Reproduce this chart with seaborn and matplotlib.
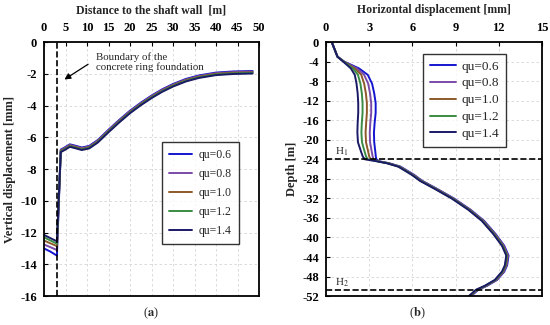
import numpy as np
import pandas as pd
import seaborn as sns
import matplotlib
matplotlib.use('Agg')
import matplotlib.pyplot as plt

# data (a) vertical displacement vs distance to shaft wall
dist = [0, 1.5, 3.0, 3.9, 4.8, 6.0, 7.2, 8.8, 10.5, 12.5, 15, 17.5, 20, 22.5,
        25, 27.5, 30, 33, 36, 40, 44, 48.5]
vd_06 = [-13.0, -13.2, -13.45, -6.77, -6.64, -6.44, -6.52, -6.64, -6.54, -6.17, -5.52,
         -4.90, -4.32, -3.82, -3.37, -2.97, -2.64, -2.32, -2.10, -1.92, -1.85, -1.82]
vd_08 = [-12.75, -12.92, -13.1, -6.81, -6.68, -6.48, -6.56, -6.68, -6.58, -6.21, -5.56,
         -4.94, -4.36, -3.86, -3.41, -3.01, -2.68, -2.36, -2.14, -1.96, -1.89, -1.86]
vd_10 = [-12.5, -12.68, -12.85, -6.85, -6.72, -6.52, -6.60, -6.72, -6.62, -6.25, -5.60,
         -4.98, -4.40, -3.90, -3.45, -3.05, -2.72, -2.40, -2.18, -2.00, -1.93, -1.90]
vd_12 = [-12.3, -12.5, -12.7, -6.89, -6.76, -6.56, -6.64, -6.76, -6.66, -6.29, -5.64,
         -5.02, -4.44, -3.94, -3.49, -3.09, -2.76, -2.44, -2.22, -2.04, -1.97, -1.94]
vd_14 = [-12.15, -12.35, -12.55, -6.93, -6.80, -6.60, -6.68, -6.80, -6.70, -6.33, -5.68,
         -5.06, -4.48, -3.98, -3.53, -3.13, -2.80, -2.48, -2.26, -2.08, -2.01, -1.98]

# data (b) horizontal displacement vs depth
depth = [0, -1.5, -3.0, -4.0, -5.4, -6.7, -8.5, -10.5, -12.5, -14.5, -16.5, -18.5,
         -20.5, -22.3, -23.4, -24.0,
         -24.4, -24.8, -25.5, -27.2, -28.4, -30, -32, -34.3, -36.6, -39.3, -41.7,
         -43.7, -45.7, -47.0, -48.7, -49.9, -50.7, -52]
hd_06 = [0.4, 0.6, 0.8, 1.27, 2.3, 2.9, 3.2, 3.35, 3.45, 3.45, 3.38, 3.33, 3.35, 3.42, 3.46, 3.5,
         3.68, 4.38, 5.18, 6.13, 6.68, 7.68, 8.88, 10.03, 10.98, 11.78, 12.38, 12.68, 12.58,
         12.38, 11.88, 11.18, 10.58, 10.08]
hd_08 = [0.4, 0.6, 0.8, 1.25, 2.15, 2.65, 2.93, 3.06, 3.14, 3.14, 3.08, 3.04, 3.06, 3.17, 3.24, 3.3,
         3.64, 4.34, 5.14, 6.09, 6.64, 7.64, 8.84, 9.99, 10.94, 11.74, 12.34, 12.64, 12.54,
         12.34, 11.84, 11.14, 10.54, 10.04]
hd_10 = [0.4, 0.6, 0.8, 1.24, 2.0, 2.45, 2.65, 2.77, 2.84, 2.84, 2.79, 2.75, 2.78, 2.92, 3.0, 3.1,
         3.6, 4.3, 5.1, 6.05, 6.6, 7.6, 8.8, 9.95, 10.9, 11.7, 12.3, 12.6, 12.5,
         12.3, 11.8, 11.1, 10.5, 10.0]
hd_12 = [0.4, 0.6, 0.8, 1.22, 1.87, 2.22, 2.39, 2.49, 2.54, 2.54, 2.49, 2.46, 2.5, 2.67, 2.78, 2.9,
         3.56, 4.26, 5.06, 6.01, 6.56, 7.56, 8.76, 9.91, 10.86, 11.66, 12.26, 12.56, 12.46,
         12.26, 11.76, 11.06, 10.46, 9.96]
hd_14 = [0.4, 0.6, 0.8, 1.2, 1.73, 2.0, 2.12, 2.2, 2.24, 2.24, 2.2, 2.18, 2.22, 2.42, 2.55, 2.7,
         3.52, 4.22, 5.02, 5.97, 6.52, 7.52, 8.72, 9.87, 10.82, 11.62, 12.22, 12.52, 12.42,
         12.22, 11.72, 11.02, 10.42, 9.92]

labels = ['qu=0.6', 'qu=0.8', 'qu=1.0', 'qu=1.2', 'qu=1.4']
colors = ['#1515d0', '#7a4aa8', '#8c5a2a', '#3a8c44', '#1a1a66']

# long tables for seaborn
df_a = pd.concat([pd.DataFrame({'x': dist, 'y': v, 'case': lab})
                  for v, lab in zip([vd_06, vd_08, vd_10, vd_12, vd_14], labels)])
df_b = pd.concat([pd.DataFrame({'x': v, 'y': depth, 'case': lab})
                  for v, lab in zip([hd_06, hd_08, hd_10, hd_12, hd_14], labels)])

sns.set_style('whitegrid')
plt.rcParams['font.family'] = ['Liberation Serif', 'DejaVu Serif']
plt.rcParams['mathtext.fontset'] = 'stix'
plt.rcParams['axes.unicode_minus'] = False

fig = plt.figure(figsize=(5.5, 3.25), dpi=100)
ax1 = fig.add_axes([0.08, 0.089, 0.391, 0.7815])
ax2 = fig.add_axes([0.5927, 0.089, 0.3927, 0.7815])

pal = dict(zip(labels, colors))
sns.lineplot(data=df_a, x='x', y='y', hue='case', palette=pal, estimator=None,
             sort=False, lw=1.4, ax=ax1)
sns.lineplot(data=df_b, x='x', y='y', hue='case', palette=pal, estimator=None,
             sort=False, lw=1.4, ax=ax2)

def style_ax(ax, xticks, yticks, xlab, ylab):
    ax.set_xticks(xticks)
    ax.set_yticks(yticks)
    ax.set_xlim(xticks[0], xticks[-1])
    ax.set_ylim(yticks[-1], yticks[0])
    ax.xaxis.tick_top()
    ax.xaxis.set_label_position('top')
    ax.tick_params(direction='in', length=3, width=0.8, top=True, left=True,
                   bottom=False, right=False, labelsize=9, pad=6, colors='black')
    ax.tick_params(axis='y', pad=5)
    for t in ax.get_xticklabels() + ax.get_yticklabels():
        t.set_fontweight('bold')
    ax.set_xlabel(xlab, fontsize=8.5, fontweight='bold', labelpad=6)
    ax.set_ylabel(ylab, fontsize=9, fontweight='bold', labelpad=3)
    ax.grid(True, ls=(0, (3, 3)), color='#d5d5d5', lw=0.6)
    for s in ax.spines.values():
        s.set_color('black')
        s.set_linewidth(1.3)

style_ax(ax1, list(range(0, 51, 5)), list(range(0, -17, -2)),
         'Distance to the shaft wall  [m]', 'Vertical displacement [mm]')
style_ax(ax2, list(range(0, 16, 3)), list(range(0, -53, -4)),
         'Horizontal displacement [mm]', 'Depth [m]')

ax1.axvline(3, color='black', ls='--', lw=1.2, zorder=5)
ax1.annotate('', xy=(4.2, -2.45), xytext=(10.8, -1.3),
             arrowprops=dict(arrowstyle='-|>', color='black', lw=0.9, mutation_scale=9))
ax1.text(12.2, -1.25, 'Boundary of the\nconcrete ring foundation', fontsize=7.8,
         ha='left', va='center', linespacing=1.1)

ax2.axhline(-24, color='black', ls='--', lw=1.2, zorder=5)
ax2.axhline(-50.8, color='black', ls='--', lw=1.2, zorder=5)
ax2.text(0.6, -23.7, 'H$_1$', fontsize=8, va='bottom')
ax2.text(0.6, -50.5, 'H$_2$', fontsize=8, va='bottom')

h, l = ax1.get_legend_handles_labels()
leg = ax1.legend(h, l, loc='upper left', bbox_to_anchor=(0.52, 0.63), fontsize=8.5,
                 frameon=True, fancybox=False, edgecolor='black', handlelength=2.0,
                 labelspacing=0.6, borderpad=0.6, handletextpad=0.5)
leg.get_frame().set_linewidth(1.0)
h, l = ax2.get_legend_handles_labels()
leg = ax2.legend(h, l, loc='upper left', bbox_to_anchor=(0.42, 0.98), fontsize=9.5,
                 frameon=True, fancybox=False, edgecolor='black', handlelength=2.0,
                 labelspacing=0.35, borderpad=0.5, handletextpad=0.4)
leg.get_frame().set_linewidth(1.0)

fig.text(0.2745, 0.035, r'($\mathbf{a}$)', fontsize=9, ha='center', va='center')
fig.text(0.758, 0.035, r'($\mathbf{b}$)', fontsize=9, ha='center', va='center')

plt.savefig('out.png', dpi=100)
